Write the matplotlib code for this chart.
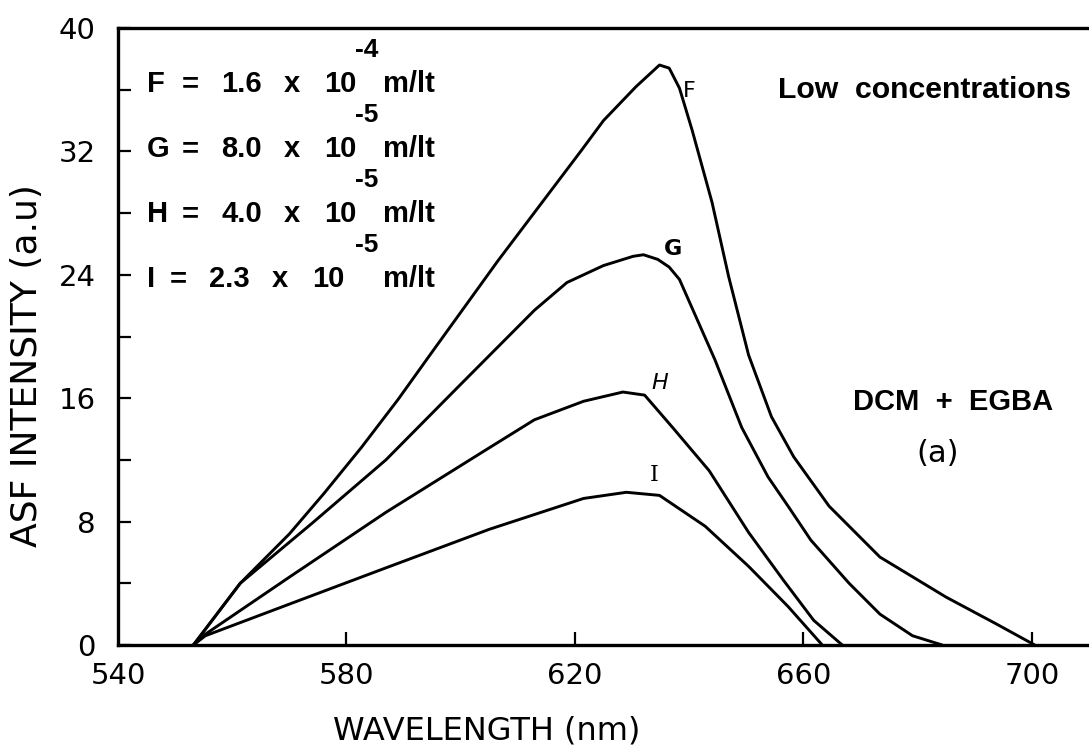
import matplotlib
matplotlib.use("Agg")
import matplotlib.pyplot as plt
from matplotlib.ticker import MultipleLocator, FixedLocator

# Emission spectra of DCM + EGBA at low concentrations
wl_F = [553.2, 561.4, 570.0, 576.0, 582.6, 589.0, 595.0, 606.5, 621.2, 625.0,
        630.7, 634.8, 636.5, 638.3, 640.5, 644.0, 646.9, 650.4, 654.4, 658.3,
        664.5, 673.4, 685.0, 693.6, 700.5]
in_F = [0.0, 4.0, 7.2, 9.8, 12.8, 15.9, 19.0, 24.9, 32.1, 34.0,
        36.2, 37.6, 37.4, 36.1, 33.4, 28.7, 23.9, 18.8, 14.8, 12.2,
        9.0, 5.7, 3.1, 1.4, 0.0]

wl_G = [553.2, 561.4, 574.0, 586.9, 600.0, 612.9, 618.6, 625.0, 630.2, 632.0,
        634.5, 636.5, 638.3, 644.5, 649.2, 653.8, 657.5, 661.3, 668.0, 673.4,
        679.1, 684.3]
in_G = [0.0, 4.0, 7.9, 12.0, 16.9, 21.7, 23.5, 24.6, 25.2, 25.3,
        25.0, 24.5, 23.7, 18.5, 14.1, 10.9, 8.9, 6.8, 4.0, 2.0,
        0.6, 0.0]

wl_H = [553.2, 555.3, 570.0, 586.9, 604.2, 612.9, 621.5, 628.4, 632.2, 637.1,
        643.5, 650.4, 656.5, 661.8, 666.8]
in_H = [0.0, 0.7, 4.4, 8.6, 12.6, 14.6, 15.8, 16.4, 16.2, 14.1,
        11.3, 7.3, 4.2, 1.6, 0.0]

wl_I = [553.2, 555.3, 570.0, 586.9, 605.0, 621.5, 629.0, 634.8, 642.8, 650.4,
        657.3, 663.3]
in_I = [0.0, 0.6, 2.65, 5.0, 7.5, 9.5, 9.9, 9.7, 7.7, 5.1,
        2.5, 0.0]

curve_names = ["F", "G", "H", "I"]
label_pos = [(640.0, 35.9), (637.1, 25.7), (634.8, 17.0), (633.9, 11.0)]

conc_values = ["1.6", "8.0", "4.0", "2.3"]
conc_exponents = ["-4", "-5", "-5", "-5"]

x_ticks = [540, 580, 620, 660, 700]
y_ticks = [0, 8, 16, 24, 32, 40]

W, H = 1089, 747
fig = plt.figure(figsize=(W / 100, H / 100), dpi=100)
ax = fig.add_axes([118 / W, 1 - 645 / H, 1 - 118 / W, (645 - 28) / H])

lw = 2.1
for wl, inten in [(wl_F, in_F), (wl_G, in_G), (wl_H, in_H), (wl_I, in_I)]:
    ax.plot(wl, inten, color="black", lw=lw, solid_joinstyle="round",
            solid_capstyle="round")

ax.set_xlim(540, 710)
ax.set_ylim(0, 40)

for side in ["left", "bottom", "top"]:
    ax.spines[side].set_linewidth(2.4)
ax.spines["right"].set_visible(False)

ax.xaxis.set_major_locator(FixedLocator(x_ticks))
ax.yaxis.set_major_locator(FixedLocator(y_ticks))
ax.yaxis.set_minor_locator(MultipleLocator(4))
ax.tick_params(axis="both", which="both", direction="in", length=9, width=1.6,
               labelsize=21, top=False, right=False)
ax.tick_params(axis="y", which="major", pad=16)
ax.tick_params(axis="x", which="major", pad=12, length=0)
# inward x ticks except at the origin
for xv in x_ticks[1:]:
    ax.plot([xv, xv], [0, 0.85], color="black", lw=1.6, solid_capstyle="butt",
            clip_on=False)

ax.set_xlabel("WAVELENGTH (nm)", fontsize=23)
ax.xaxis.set_label_coords((487 - 118) / 971, -(716 - 645) / 617)
ax.set_ylabel("ASF INTENSITY (a.u)", fontsize=26)
ax.yaxis.set_label_coords(-(118 - 44) / 971, (645 - 366) / 617)

# curve tags
tag_styles = [dict(family="DejaVu Sans"),
              dict(family="DejaVu Sans", fontweight="bold"),
              dict(family="DejaVu Sans", style="italic"),
              dict(family="DejaVu Serif")]
for name, (lx, ly), st in zip(curve_names, label_pos, tag_styles):
    ax.text(lx, ly, name, fontsize=16, ha="center", va="center", **st)


def fx(px):
    return px / W


def fy(py):
    return 1 - py / H


bold = dict(family="Liberation Sans", fontweight="bold", color="black")
base_y = [92, 157, 222, 287]
for name, val, ex, by in zip(curve_names, conc_values, conc_exponents, base_y):
    shift = -12 if name == "I" else 0
    fig.text(fx(147), fy(by), name, fontsize=21, va="baseline", **bold)
    fig.text(fx(190 + shift), fy(by), "=", fontsize=21, va="baseline",
             ha="center", **bold)
    fig.text(fx(221 + shift), fy(by), val, fontsize=21, va="baseline", **bold)
    fig.text(fx(284 + shift), fy(by), "x", fontsize=21, va="baseline", **bold)
    fig.text(fx(324 + shift), fy(by), "10", fontsize=21, va="baseline", **bold)
    fig.text(fx(355), fy(by - 35), ex, fontsize=19, va="baseline", **bold)
    fig.text(fx(383), fy(by), "m/lt", fontsize=21, va="baseline", **bold)

fig.text(fx(778), fy(98), "Low  concentrations", fontsize=21.8, va="baseline",
         **bold)
fig.text(fx(853), fy(410), "DCM  +  EGBA", fontsize=21, va="baseline", **bold)
fig.text(fx(938), fy(453), "(a)", fontsize=22, ha="center", va="center",
         family="DejaVu Sans")

fig.savefig("out.png", dpi=100)
